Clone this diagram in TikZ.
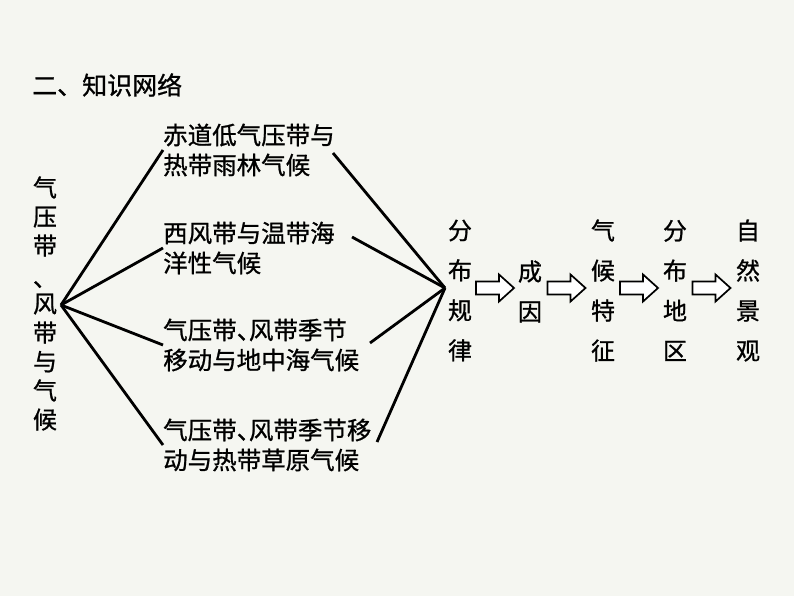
\documentclass[tikz,border=0pt]{standalone}
\usepackage{fontspec}
\setmainfont{Noto Sans CJK SC}[FakeBold=0.9]
\usetikzlibrary{calc}
\definecolor{paper}{RGB}{245,246,241}

\begin{document}
\begin{tikzpicture}[
  x=1pt,y=-1pt,
  title/.style={anchor=west,inner sep=0pt,font=\fontsize{25}{30}\selectfont},
  tbox/.style={anchor=west,inner sep=0pt,align=left,font=\fontsize{24.5}{30}\selectfont},
  lcol/.style={inner sep=0pt,align=center,font=\fontsize{24}{29}\selectfont},
  vcol/.style={inner sep=0pt,align=center,font=\fontsize{24}{40}\selectfont},
  link/.style={draw=black,line width=2.8pt},
  blockarr/.pic={
    \draw[fill=white,line width=1.7pt,line join=miter]
      (-19,-6.5) -- (4,-6.5) -- (4,-13.5) -- (19,0) -- (4,13.5) -- (4,6.5) -- (-19,6.5) -- cycle;
  },
]
\fill[paper] (0,0) rectangle (794,596);
\useasboundingbox (0,0) rectangle (794,596);

%% ---------------------------------------------------------------- title
\node[title] (head) at (32,85) {二、知识网络};

%% ------------------------------------------------------------ left side
\node[lcol] (belt) at (45,303.5)
  {气\\压\\带\\\raisebox{-3pt}[0pt][0pt]{、}\\风\\带\\与\\气\\候};
\coordinate (lhub) at (61,305);

%% ---------------------------------------------------------- four types
\node[tbox] (c1) at (163,150) {赤道低气压带与\\热带雨林气候};
\node[tbox] (c2) at (163,248) {西风带与温带海\\洋性气候};
\node[tbox] (c3) at (163,345) {气压带、\kern-.5em风带季节\\移动与地中海气候};
\node[tbox] (c4) at (163,445) {气压带、\kern-.5em风带季节移\\动与热带草原气候};

\coordinate (c1r) at (333,153);
\coordinate (c2r) at (352,237);
\coordinate (c3r) at (370,343);
\coordinate (c4r) at (377,442);
\coordinate (rhub) at (445,288);

\foreach \ci in {1,...,4}{
  \draw[link] (lhub) -- (c\ci.west);
  \draw[link] (c\ci r) -- (rhub);
}

%% ------------------------------------------------------------ the chain
\node[vcol] (law)  at (460,290.5) {分\\布\\规\\律};
\node[vcol] (why)  at (530,291.5) {成\\因};
\node[vcol] (feat) at (603,290.5) {气\\候\\特\\征};
\node[vcol] (area) at (675,290.5) {分\\布\\地\\区};
\node[vcol] (land) at (748,290.5) {自\\然\\景\\观};

\foreach \ca/\cb in {law/why,why/feat,feat/area,area/land}{
  \coordinate (mid) at ($(\ca.east)!.5!(\cb.west)$);
  \pic at (mid |- rhub) {blockarr};
}

\end{tikzpicture}
\end{document}
